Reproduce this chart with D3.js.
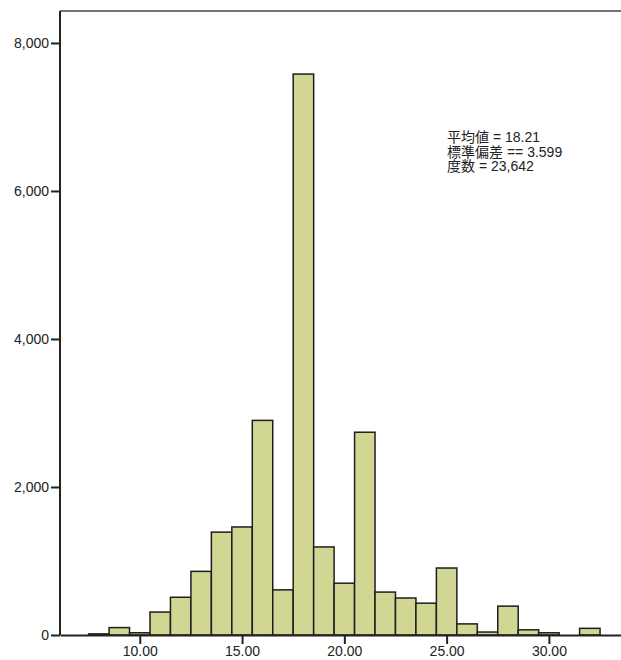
<!DOCTYPE html>
<html>
<head>
<meta charset="utf-8">
<script src="https://cdn.jsdelivr.net/npm/d3@7"></script>
<style>
  body { margin: 0; background: #fff; }
  svg text { font-family: Arial, "Liberation Sans", "Noto Sans CJK JP", sans-serif; }
</style>
</head>
<body>
<svg id="chart"></svg>
<script>
// histogram bins (centered on integers) and their counts
const binCenters = [8, 9, 10, 11, 12, 13, 14, 15, 16, 17, 18, 19, 20, 21, 22, 23, 24, 25, 26, 27, 28, 29, 30, 31, 32]
const counts = [15, 100, 30, 310, 510, 860, 1390, 1460, 2900, 610, 7580, 1190, 700, 2740, 580, 500, 430, 905, 150, 40, 390, 70, 30, 0, 90]
const yTicks = [0, 2000, 4000, 6000, 8000]
const xTicks = [10, 15, 20, 25, 30]
const statsLines = ['平均値 = 18.21', '標準偏差 == 3.599', '度数 = 23,642']

const width = 621, height = 660
const svg = d3.select('#chart').attr('width', width).attr('height', height)

const x = d3.scaleLinear().domain([6.1, 33.5]).range([60, 620.5])
const y = d3.scaleLinear().domain([0, 8432]).range([635, 11])

// top frame line
svg.append('line')
    .attr('x1', 60).attr('x2', width)
    .attr('y1', 11).attr('y2', 11)
    .attr('stroke', '#444').attr('stroke-width', 1.5)

// bars
svg.append('g')
    .selectAll('rect')
    .data(binCenters.map((c, i) => ({c: c, n: counts[i]})).filter(d => d.n > 0))
    .join('rect')
        .attr('x', d => x(d.c - 0.5))
        .attr('width', d => x(d.c + 0.5) - x(d.c - 0.5))
        .attr('y', d => y(d.n))
        .attr('height', d => y(0) - y(d.n))
        .attr('fill', '#d2d693')
        .attr('stroke', '#1e1e1e')
        .attr('stroke-width', 1.5)

// y axis
let yAxis = svg.append('g')
    .attr('transform', 'translate(60,0)')
    .call(d3.axisLeft(y).tickValues(yTicks).tickFormat(d3.format(',')).tickSize(9).tickSizeOuter(0))
yAxis.select('.domain').attr('stroke', '#222').attr('stroke-width', 2)
    .attr('d', `M0,11V${y(0)}`)
yAxis.selectAll('.tick line').attr('stroke', '#222').attr('stroke-width', 2)
yAxis.selectAll('.tick text').attr('font-size', 14).attr('fill', '#222').attr('x', -11)

// x axis
let xAxis = svg.append('g')
    .attr('transform', `translate(0,${y(0)})`)
    .call(d3.axisBottom(x).tickValues(xTicks).tickFormat(d3.format('.2f')).tickSize(9).tickSizeOuter(0))
xAxis.select('.domain').attr('stroke', '#222').attr('stroke-width', 2)
xAxis.selectAll('.tick line').attr('stroke', '#222').attr('stroke-width', 2)
xAxis.selectAll('.tick text').attr('font-size', 14).attr('fill', '#222').attr('y', 11).attr('dy', '0.71em')

// stats box text
svg.append('g')
    .selectAll('text')
    .data(statsLines)
    .join('text')
        .attr('x', 447)
        .attr('y', (d, i) => 142 + i * 14.5)
        .attr('font-size', 14)
        .attr('fill', '#222')
        .text(d => d)
</script>
</body>
</html>
